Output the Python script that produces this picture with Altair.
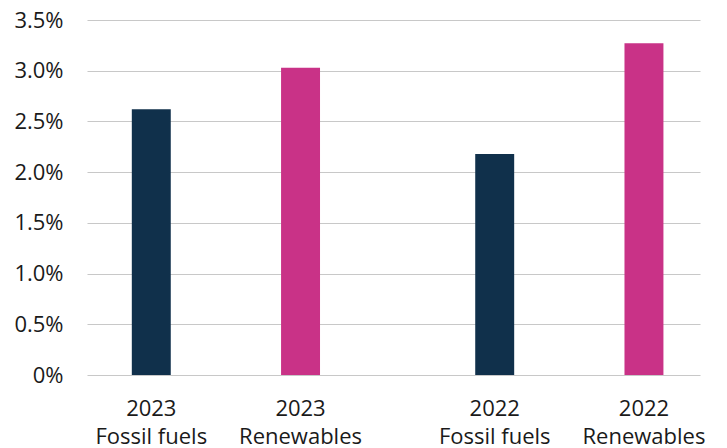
import altair as alt
import pandas as pd

years = ["2023", "2023", "2022", "2022"]
series = ["Fossil fuels", "Renewables", "Fossil fuels", "Renewables"]
values = [2.62, 3.03, 2.18, 3.27]

year_order = ["2023", "2022"]
series_order = ["Fossil fuels", "Renewables"]
series_colors = ["#10304b", "#c93287"]
y_ticks = [0, 0.5, 1.0, 1.5, 2.0, 2.5, 3.0, 3.5]

df = pd.DataFrame({"year": years, "series": series, "value": values})

FONT = "Open Sans"
TXT = "#1a1a1a"
FS = 22

x_enc = alt.X(
    "year:N",
    sort=year_order,
    scale=alt.Scale(paddingInner=0.239, paddingOuter=0.012, align=1),
    axis=None,
)
xo_enc = alt.XOffset(
    "series:N",
    sort=series_order,
    scale=alt.Scale(paddingInner=0.739, paddingOuter=0.245),
)

base = alt.Chart(df)

bars = base.mark_bar().encode(
    x=x_enc,
    xOffset=xo_enc,
    y=alt.Y(
        "value:Q",
        scale=alt.Scale(domain=[0, 3.5], nice=False),
        axis=alt.Axis(
            values=y_ticks,
            labelExpr="datum.value == 0 ? '0%' : format(datum.value, '.1f') + '%'",
            title=None,
            domain=False,
            ticks=False,
            labelPadding=24,
            labelFontSize=FS,
            labelFont=FONT,
            labelColor=TXT,
            gridColor="#c8c8c8",
            gridWidth=1.2,
        ),
    ),
    color=alt.Color(
        "series:N",
        scale=alt.Scale(domain=series_order, range=series_colors),
        legend=None,
    ),
)

year_text = base.mark_text(
    fontSize=FS, font=FONT, color=TXT, baseline="alphabetic", align="center"
).encode(x=x_enc, xOffset=xo_enc, y=alt.value(396), text="year:N")

series_text = base.mark_text(
    fontSize=FS, font=FONT, color=TXT, baseline="alphabetic", align="center"
).encode(x=x_enc, xOffset=xo_enc, y=alt.value(424), text="series:N")

chart = (
    alt.layer(bars, year_text, series_text)
    .properties(
        width=613,
        height=355,
        background="white",
        autosize=alt.AutoSizeParams(type="none"),
        padding={"left": 87, "top": 20, "right": 27, "bottom": 73},
    )
    .configure_view(strokeWidth=0, stroke="transparent")
)

chart.save("out.html", embed_options={"renderer": "svg", "actions": False})
